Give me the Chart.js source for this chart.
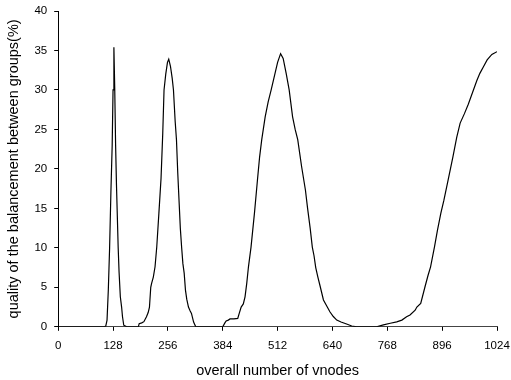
<!DOCTYPE html>
<html>
<head>
<meta charset="utf-8">
<script src="https://cdn.jsdelivr.net/npm/chart.js@4/dist/chart.umd.min.js"></script>
<style>
  html, body { margin: 0; padding: 0; background: #fff; }
  #wrap { width: 511px; height: 380px; }
</style>
</head>
<body>
<div id="wrap"><canvas id="chart"></canvas></div>
<script>
// values
const vnodes = [0, 108, 111, 114, 117, 120, 123, 126, 128, 130, 132, 134, 136, 138, 140, 142, 145, 148, 150, 153, 160,
  187, 189, 195, 200, 206, 210, 213, 216, 218, 222, 226, 230, 235, 240, 244, 247, 251, 255, 258, 262, 266, 269, 273,
  276, 279, 282, 285, 288, 291, 294, 297, 300, 304, 308, 311, 316, 321, 330,
  384, 389, 392, 397, 401, 410, 419, 423, 427, 432, 436, 440, 444, 450, 458, 465, 470, 475, 483, 490, 497, 506, 512,
  519, 525, 532, 539, 547, 553, 559, 568, 577, 582, 588, 593, 597, 601, 606, 611, 619, 627, 634, 642, 650, 660, 673, 685,
  697, 720, 743, 759, 775, 790, 802, 813, 821, 833, 837, 846, 856, 863, 869, 878, 885, 893, 900, 910, 921, 930, 938,
  948, 957, 969, 977, 984, 993, 1001, 1012, 1024];
const quality = [0, 0, 0.1, 0.85, 4.7, 10, 17, 23, 30, 35.4, 30, 23, 18, 14, 10, 7, 3.8, 2.5, 1.3, 0.2, 0,
  0, 0.4, 0.5, 0.65, 1.27, 1.8, 2.5, 5, 5.5, 6.3, 7.6, 10.1, 14.4, 18.8, 24.5, 30, 32, 33.5, 33.9, 33, 31.5, 30, 26,
  23.7, 19.5, 16, 12.5, 10.1, 8, 6.8, 4.65, 3.5, 2.5, 2.0, 1.7, 0.6, 0, 0,
  0, 0.5, 0.75, 0.85, 1.0, 1.0, 1.06, 1.8, 2.5, 2.9, 3.8, 5.5, 7.6, 10.1, 14.4, 18.6, 21.5, 23.7, 26.6, 28.5, 30, 32.1, 33.5,
  34.6, 34, 32.1, 30, 26.6, 25, 23.7, 20.3, 17.3, 15, 12.5, 10.1, 9, 7.5, 6.3, 5.2, 3.4, 2.6, 1.9, 1.3, 0.85, 0.6, 0.35, 0.1,
  0, 0, 0, 0.25, 0.45, 0.63, 0.85, 1.27, 1.5, 2.1, 2.5, 2.96, 5.07, 6.5, 7.6, 10.1, 12.2, 14.4, 16, 18.6, 21.5, 24, 25.8,
  27, 28.2, 30, 31.2, 32.1, 33, 33.8, 34.5, 34.85];
const xTicks = [0, 128, 256, 384, 512, 640, 768, 896, 1024];
const yTicks = [0, 5, 10, 15, 20, 25, 30, 35, 40];

const points = vnodes.map((v, i) => ({ x: v, y: quality[i] }));
const tickFont = { family: "'Liberation Sans', Arial, sans-serif", size: 11.5 };
const titleFont = { family: "'Liberation Sans', Arial, sans-serif", size: 14.5 };

new Chart(document.getElementById('chart'), {
  type: 'scatter',
  data: {
    datasets: [{
      data: points,
      showLine: true,
      borderColor: '#000',
      borderWidth: 1.2,
      pointRadius: 0,
      tension: 0
    }]
  },
  options: {
    responsive: true,
    maintainAspectRatio: false,
    animation: false,
    layout: { padding: { top: 0, right: 0, bottom: 0, left: 5 } },
    plugins: { legend: { display: false }, tooltip: { enabled: false } },
    scales: {
      x: {
        type: 'linear',
        min: 0,
        max: 1024,
        afterBuildTicks: axis => { axis.ticks = xTicks.map(v => ({ value: v })); },
        afterFit: axis => { axis.paddingRight = 14; },
        grid: { drawOnChartArea: false, drawTicks: true, tickLength: 4, color: '#000' },
        border: { color: '#444', width: 1 },
        ticks: { color: '#000', font: tickFont, padding: 8, maxRotation: 0, callback: v => String(v) },
        title: { display: true, text: 'overall number of vnodes', color: '#000',
                 font: titleFont, padding: { top: 2, bottom: 0 } }
      },
      y: {
        min: 0,
        max: 40,
        afterBuildTicks: axis => { axis.ticks = yTicks.map(v => ({ value: v })); },
        afterFit: axis => { axis.paddingTop = 11; },
        grid: { drawOnChartArea: false, drawTicks: true, tickLength: 4, color: '#000' },
        border: { color: '#000', width: 1 },
        ticks: { color: '#000', font: tickFont, padding: 7 },
        title: { display: true, text: 'quality of the balancement between groups(%)', color: '#000',
                 font: titleFont, padding: { top: 0, bottom: 5 } }
      }
    }
  }
});
</script>
</body>
</html>
